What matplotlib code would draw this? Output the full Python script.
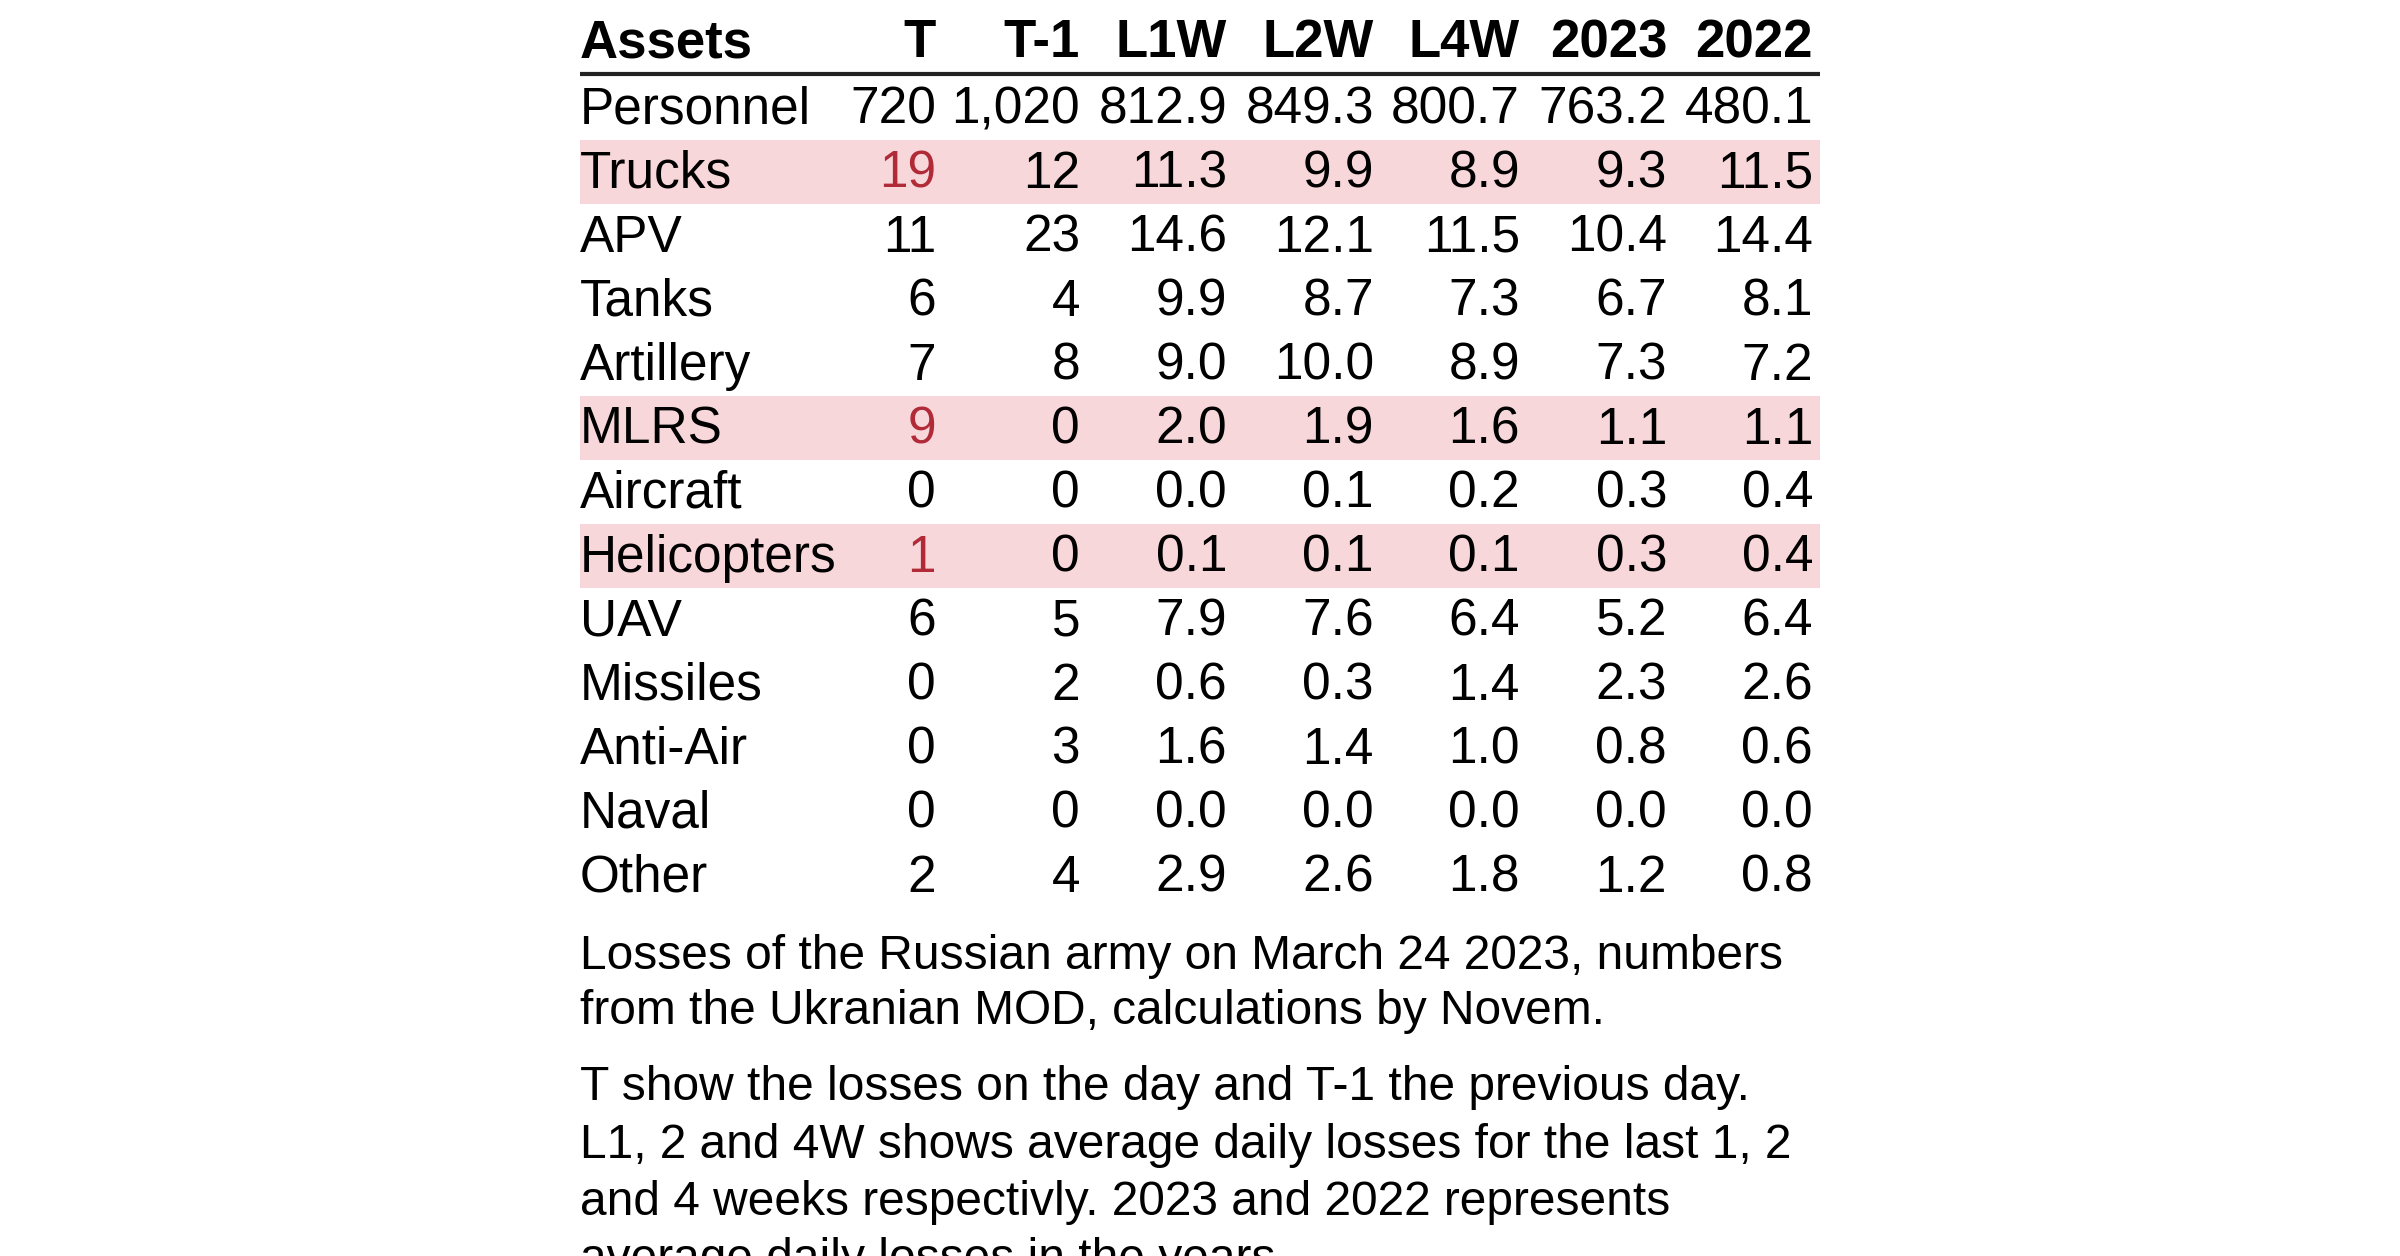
import matplotlib
matplotlib.use("Agg")
import matplotlib.pyplot as plt
from matplotlib.patches import Rectangle

# ---- data ----
columns = ["Assets", "T", "T-1", "L1W", "L2W", "L4W", "2023", "2022"]
assets = ["Personnel", "Trucks", "APV", "Tanks", "Artillery", "MLRS", "Aircraft",
          "Helicopters", "UAV", "Missiles", "Anti-Air", "Naval", "Other"]
t_today = ["720", "19", "11", "6", "7", "9", "0", "1", "6", "0", "0", "0", "2"]
t_prev = ["1,020", "12", "23", "4", "8", "0", "0", "0", "5", "2", "3", "0", "4"]
l1w = ["812.9", "11.3", "14.6", "9.9", "9.0", "2.0", "0.0", "0.1", "7.9", "0.6", "1.6", "0.0", "2.9"]
l2w = ["849.3", "9.9", "12.1", "8.7", "10.0", "1.9", "0.1", "0.1", "7.6", "0.3", "1.4", "0.0", "2.6"]
l4w = ["800.7", "8.9", "11.5", "7.3", "8.9", "1.6", "0.2", "0.1", "6.4", "1.4", "1.0", "0.0", "1.8"]
y2023 = ["763.2", "9.3", "10.4", "6.7", "7.3", "1.1", "0.3", "0.3", "5.2", "2.3", "0.8", "0.0", "1.2"]
y2022 = ["480.1", "11.5", "14.4", "8.1", "7.2", "1.1", "0.4", "0.4", "6.4", "2.6", "0.6", "0.0", "0.8"]
highlighted = ["Trucks", "MLRS", "Helicopters"]
caption_lines = [
    "Losses of the Russian army on March 24 2023, numbers",
    "from the Ukranian MOD, calculations by Novem.",
]
note_lines = [
    "T show the losses on the day and T-1 the previous day.",
    "L1, 2 and 4W shows average daily losses for the last 1, 2",
    "and 4 weeks respectivly. 2023 and 2022 represents",
    "average daily losses in the years.",
]

# ---- layout ----
W, H, DPI = 2400, 1256, 100
FONT = "Liberation Sans"
BAND = "#f8d7da"
RED = "#b02a37"

fig = plt.figure(figsize=(W / DPI, H / DPI), dpi=DPI)
ax = fig.add_axes([0, 0, 1, 1])
ax.set_xlim(0, W)
ax.set_ylim(H, 0)
ax.axis("off")

left, right = 580, 1820
col_right = [936, 1080, 1227, 1374, 1520, 1667, 1813]
header_base = 57
row0_top, row_h = 76, 64
body_fs, head_fs, cap_fs = 37, 38, 34.5

values = [t_today, t_prev, l1w, l2w, l4w, y2023, y2022]

# header
ax.text(left, header_base, columns[0], fontsize=head_fs, fontweight="bold",
        family=FONT, ha="left", va="baseline", color="black")
for xr, name in zip(col_right, columns[1:]):
    ax.text(xr, header_base, name, fontsize=head_fs, fontweight="bold",
            family=FONT, ha="right", va="baseline", color="black")
ax.plot([left, right], [74, 74], color="#222222", lw=3.0, solid_capstyle="butt")

# rows
for i, a in enumerate(assets):
    top = row0_top + i * row_h
    base = top + 48
    hl = a in highlighted
    if hl:
        ax.add_patch(Rectangle((left, top), right - left, row_h,
                               facecolor=BAND, edgecolor="none", zorder=0))
    ax.text(left, base, a, fontsize=body_fs, family=FONT, ha="left",
            va="baseline", color="black")
    for j, (xr, col) in enumerate(zip(col_right, values)):
        c = RED if (hl and j == 0) else "black"
        ax.text(xr, base, col[i], fontsize=body_fs, family=FONT, ha="right",
                va="baseline", color=c)

# caption
for k, line in enumerate(caption_lines):
    ax.text(left, 969 + k * 55, line, fontsize=cap_fs, family=FONT,
            ha="left", va="baseline", color="black")
for k, line in enumerate(note_lines):
    ax.text(left, 1100 + k * 57.5, line, fontsize=cap_fs, family=FONT,
            ha="left", va="baseline", color="black")

fig.savefig("out.png", dpi=DPI, facecolor="white")
